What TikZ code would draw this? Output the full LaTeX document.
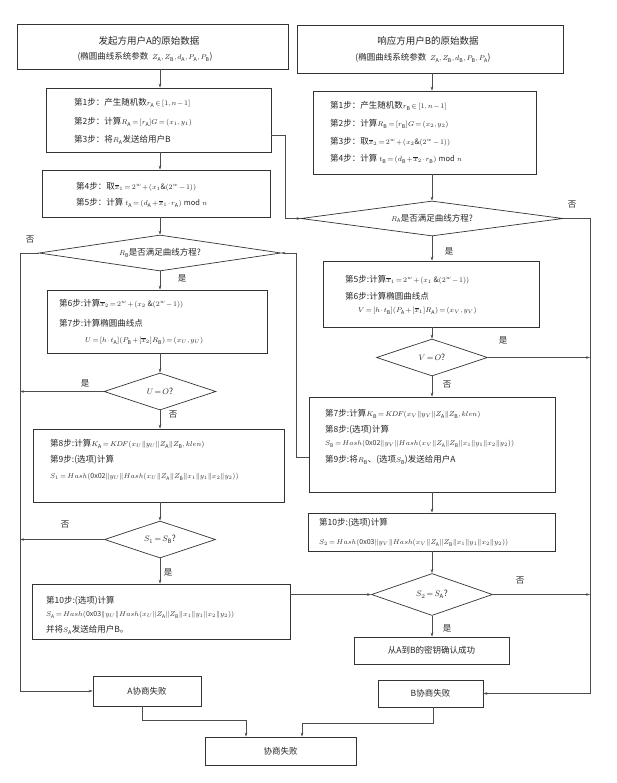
\documentclass[tikz,border=0pt]{standalone}
\usepackage{fontspec}
\setmainfont{Noto Sans CJK SC}
\usepackage{graphicx}
\usetikzlibrary{shapes.geometric,arrows.meta}
\newcommand\sA{\mathrm{A}}
\newcommand\sB{\mathrm{B}}
\newcommand\cc{\|}
\newcommand\xb[1]{\overline{x}_{#1}}
\newcommand\sm[1]{{\fontsize{7.5pt}{9pt}\selectfont$#1$}}
\begin{document}
\thickmuskip=2.5mu
\medmuskip=1.5mu
\thinmuskip=2mu
\begin{tikzpicture}[x=1pt,y=-1pt,
  box/.style={draw=black!80, line width=0.7pt, inner sep=0pt, rectangle},
  dia/.style={draw=black!80, line width=0.7pt, diamond, inner sep=0pt},
  txt/.style={anchor=west, inner sep=0pt, text=black!85, font=\fontsize{8.5pt}{10pt}\selectfont},
  ftxt/.style={anchor=west, inner sep=0pt, text=black!80, font=\fontsize{7pt}{9pt}\selectfont},
  ctxt/.style={inner sep=0pt, text=black!85, font=\fontsize{8.5pt}{10pt}\selectfont},
  ttxt/.style={inner sep=0pt, text=black!85, font=\fontsize{9.5pt}{11pt}\selectfont},
  lab/.style={inner sep=0pt, text=black!85, font=\fontsize{8.5pt}{10pt}\selectfont},
  arr/.style={draw=black!70, line width=0.5pt, -{Stealth[length=4pt,width=2.6pt]}}
]
\useasboundingbox (0,0) rectangle (617,783);
\coordinate (colA) at (160,0);
\coordinate (colB) at (432,0);
\coordinate (leftx) at (20,0);
\coordinate (rightx) at (590,0);

% ---------- left column ----------
\node[box, minimum width=271pt, minimum height=45pt] (A1) at (152.5,46.5) {};
\node[ttxt] (A1a) at (149,41) {发起方用户A的原始数据};
\node[ctxt] (A1b) at (145,57) {(椭圆曲线系统参数\ \ \sm{Z_\sA,Z_\sB,d_\sA,P_\sA,P_\sB})};

\node[box, minimum width=225pt, minimum height=64pt] (A2) at (158.5,120) {};
\node[txt] (A2a) at (74,103) {第1步：产生随机数\sm{r_\sA\in[1,n-1]}};
\node[txt] (A2b) at (74,122) {第2步：计算\sm{R_\sA=[r_\sA]G=(x_1,y_1)}};
\node[txt] (A2c) at (74,140) {第3步：将\sm{R_\sA}发送给用户B};

\node[box, minimum width=228pt, minimum height=47pt] (A3) at (156,193.5) {};
\node[txt] (A3a) at (76,187) {第4步：取\sm{\xb1=2^w+(x_1\&(2^w-1))}};
\node[txt] (A3b) at (76,203) {第5步：计算 \sm{t_\sA=(d_\sA+\xb1\cdot r_\sA)\bmod n}};

\node[dia, minimum width=242pt, minimum height=36pt] (dRB) at (160,253) {};
\node[ctxt] (dRBt) at (dRB) {\sm{R_\sB}是否满足曲线方程?};

\node[box, minimum width=220pt, minimum height=63pt] (A4) at (157,321.5) {};
\node[txt] (A4a) at (59,304) {第6步:计算\sm{\xb2=2^w+(x_2\ \&(2^w-1))}};
\node[txt] (A4b) at (59,323) {第7步:计算椭圆曲线点};
\node[txt] (A4c) at (85,341) {\sm{U=[h\cdot t_\sA](P_\sB+[\xb2]R_\sB)=(x_U,y_U)}};

\node[dia, minimum width=112pt, minimum height=37pt] (dU) at (160,391.5) {};
\node[ctxt] (dUt) at (dU) {$U=O$?};

\node[box, minimum width=251pt, minimum height=73pt] (A5) at (158.5,465.5) {};
\node[txt] (A5a) at (50,444) {第8步:计算\sm{K_\sA=K\!D\!F(x_U\cc y_U\cc Z_\sA\cc Z_\sB,klen)}};
\node[txt] (A5b) at (50,460) {第9步:(选项)计算};
\node[ftxt] (A5c) at (50,477) {$S_1=Hash(\mathrm{0x02}\cc y_U\cc Hash(x_U\cc Z_\sA\cc Z_\sB\cc x_1\cc y_1\cc x_2\cc y_2))$};

\node[dia, minimum width=111pt, minimum height=37pt] (dS1) at (160,539.5) {};
\node[ctxt] (dS1t) at (dS1) {$S_1=S_\sB$?};

\node[box, minimum width=258pt, minimum height=55pt] (A6) at (161,611.5) {};
\node[txt] (A6a) at (46,601) {第10步:(选项)计算};
\node[ftxt] (A6b) at (46,615) {$S_\sA=Hash(\mathrm{0x03}\cc y_U\cc Hash(x_U\cc Z_\sA\cc Z_\sB\cc x_1\cc y_1\cc x_2\cc y_2))$};
\node[txt] (A6c) at (46,630) {并将\sm{S_\sA}发送给用户B。};

\node[box, minimum width=108pt, minimum height=30pt] (AF) at (147,691) {};
\node[ctxt] (AFt) at (AF) {A协商失败};

% ---------- right column ----------
\node[box, minimum width=266pt, minimum height=48pt] (B1) at (430,49) {};
\node[ttxt] (B1a) at (428,41) {响应方用户B的原始数据};
\node[ctxt] (B1b) at (423,58) {(椭圆曲线系统参数\ \ \sm{Z_\sA,Z_\sB,d_\sB,P_\sB,P_\sA})};

\node[box, minimum width=223pt, minimum height=83pt] (B2) at (424.5,132.5) {};
\node[txt] (B2a) at (330,106) {第1步：产生随机数\sm{r_\sB\in[1,n-1]}};
\node[txt] (B2b) at (330,124) {第2步：计算\sm{R_\sB=[r_\sB]G=(x_2,y_2)}};
\node[txt] (B2c) at (330,142) {第3步：取\sm{\xb2=2^w+(x_2\&(2^w-1))}};
\node[txt] (B2d) at (330,159) {第4步：计算 \sm{t_\sB=(d_\sB+\xb2\cdot r_\sB)\bmod n}};

\node[dia, minimum width=262pt, minimum height=35pt] (dRA) at (432,218.5) {};
\node[ctxt] (dRAt) at (dRA) {\sm{R_\sA}是否满足曲线方程?};

\node[box, minimum width=216pt, minimum height=66pt] (B3) at (431,294) {};
\node[txt] (B3a) at (345,280) {第5步:计算\sm{\xb1=2^w+(x_1\ \&(2^w-1))}};
\node[txt] (B3b) at (345,296) {第6步:计算椭圆曲线点};
\node[txt] (B3c) at (358,311) {\sm{V=[h\cdot t_\sB](P_\sA+[\xb1]R_\sA)=(x_V,y_V)}};

\node[dia, minimum width=111pt, minimum height=37pt] (dV) at (432,357.5) {};
\node[ctxt] (dVt) at (dV) {$V=O$?};

\node[box, minimum width=246pt, minimum height=95pt] (B4) at (432,444.5) {};
\node[txt] (B4a) at (325,414) {第7步:计算\sm{K_\sB=K\!D\!F(x_V\cc y_V\cc Z_\sA\cc Z_\sB,klen)}};
\node[txt] (B4b) at (325,430) {第8步:(选项)计算};
\node[ftxt] (B4c) at (325,444) {$S_\sB=Hash(\mathrm{0x02}\cc y_V\cc Hash(x_V\cc Z_\sA\cc Z_\sB\cc x_1\cc y_1\cc x_2\cc y_2))$};
\node[txt] (B4d) at (325,460) {第9步:将\sm{R_\sB}、(选项\sm{S_\sB})发送给用户A};

\node[box, minimum width=247pt, minimum height=38pt] (B5) at (431.5,532) {};
\node[txt] (B5a) at (319,523) {第10步:(选项)计算};
\node[ftxt] (B5b) at (319,543) {$S_2=Hash(\mathrm{0x03}\cc y_V\cc Hash(x_V\cc Z_\sA\cc Z_\sB\cc x_1\cc y_1\cc x_2\cc y_2))$};

\node[dia, minimum width=121pt, minimum height=42pt] (dS2) at (432,594.5) {};
\node[ctxt] (dS2t) at (dS2) {$S_2=S_\sA$?};

\node[box, minimum width=155pt, minimum height=27pt] (OK) at (431.5,650.5) {};
\node[ctxt] (OKt) at (OK) {从A到B的密钥确认成功};

\node[box, minimum width=105pt, minimum height=27pt] (BF) at (430.5,693.5) {};
\node[ctxt] (BFt) at (BF) {B协商失败};

\node[box, minimum width=151pt, minimum height=28pt] (FF) at (280.5,751) {};
\node[ctxt] (FFt) at (FF) {协商失败};

% ---------- vertical connectors ----------
\draw[arr] (A1.south -| colA) -- (A2.north -| colA);
\draw[arr] (A2.south -| colA) -- (A3.north -| colA);
\draw[arr] (A3.south -| colA) -- (dRB.north);
\draw[arr] (dRB.south) -- (A4.north -| colA);
\draw[arr] (A4.south -| colA) -- (dU.north);
\draw[arr] (dU.south) -- (A5.north -| colA);
\draw[arr] (A5.south -| colA) -- (dS1.north);
\draw[arr] (dS1.south) -- (A6.north -| colA);

\draw[arr] (B1.south -| colB) -- (B2.north -| colB);
\draw[arr] (B2.south -| colB) -- (dRA.north);
\draw[arr] (dRA.south) -- (B3.north -| colB);
\draw[arr] (B3.south -| colB) -- (dV.north);
\draw[arr] (dV.south) -- (B4.north -| colB);
\draw[arr] (B4.south -| colB) -- (B5.north -| colB);
\draw[arr] (B5.south -| colB) -- (dS2.north);
\draw[arr] (dS2.south) -- (OK.north -| colB);

% ---------- side connectors ----------
\draw[arr] (dRB.west) -- (dRB.west -| leftx) |- (AF.west);
\draw[arr] (dU.west) -- (dU.west -| leftx);
\draw[arr] (dS1.west) -- (dS1.west -| leftx);

\draw[arr] (dRA.east) -- (dRA.east -| rightx) |- (BF.east);
\draw[arr] (dV.east) -- (dV.east -| rightx);
\draw[arr] (dS2.east) -- (dS2.east -| rightx);

\draw[arr] ([yshift=-15pt]A2.east) -- ++(14,0) |- (dRA.west);
\draw[arr] ([yshift=-12.5pt]B4.west) -- ++(-12,0) |- (dRB.east);
\draw[arr] (A6.east |- dS2.west) -- (dS2.west);

\draw[arr] ([xshift=-5pt]AF.south) -- ++(0,14) -| ([xshift=-34.5pt]FF.north);
\draw[arr] ([xshift=2.5pt]BF.south) -- ++(0,16) -| ([xshift=21.5pt]FF.north);

% ---------- labels ----------
\node[lab] (l1) at (30,240) {否};
\node[lab] (l2) at (182,278) {是};
\node[lab] (l3) at (85,383) {是};
\node[lab] (l4) at (173,415) {否};
\node[lab] (l5) at (65,525) {否};
\node[lab] (l6) at (168,572) {是};
\node[lab] (r1) at (572,205) {否};
\node[lab] (r2) at (449,251) {是};
\node[lab] (r3) at (503,340) {是};
\node[lab] (r4) at (447,385) {否};
\node[lab] (r5) at (520,581) {否};
\node[lab] (r6) at (447,628) {是};
\end{tikzpicture}
\end{document}
